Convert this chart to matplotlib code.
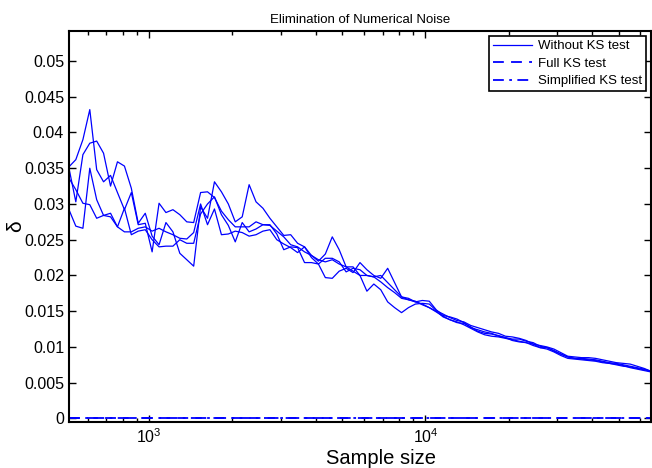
import numpy as np
import matplotlib
matplotlib.use("Agg")
import matplotlib.pyplot as plt
from matplotlib.ticker import FormatStrFormatter, LogLocator, NullFormatter

plt.rcParams['font.family'] = ['Liberation Sans', 'DejaVu Sans']
plt.rcParams['mathtext.fontset'] = 'custom'
plt.rcParams['mathtext.rm'] = 'Liberation Sans'
plt.rcParams['mathtext.it'] = 'Liberation Sans'

# sample sizes
n = [512, 542, 575, 609, 645, 683, 724, 767, 813, 861, 912, 967,
     1024, 1085, 1149, 1218, 1290, 1367, 1448, 1534, 1625, 1722, 1825, 1933,
     2048, 2170, 2299, 2435, 2580, 2734, 2896, 3069, 3251, 3444, 3649, 3866,
     4096, 4340, 4598, 4871, 5161, 5468, 5793, 6137, 6502, 6889, 7298, 7732,
     8192, 8679, 9195, 9742, 10321, 10935, 11585, 12274, 13004, 13777, 14596, 15464,
     16384, 17358, 18390, 19484, 20643, 21870, 23170, 24548, 26008, 27554, 29193, 30929,
     32768, 34716, 36781, 38968, 41285, 43740, 46341, 49097, 52016, 55109, 58386, 61858,
     65536]

# delta, runs without KS test
run1 = [0.0352, 0.0362, 0.0390, 0.0432, 0.0348, 0.0331, 0.0340, 0.0316, 0.0292, 0.0316, 0.0271, 0.0273,
        0.0233, 0.0301, 0.0288, 0.0292, 0.0285, 0.0275, 0.0274, 0.0316, 0.0317, 0.0309, 0.0290, 0.0278,
        0.0268, 0.0268, 0.0268, 0.0275, 0.0271, 0.0271, 0.0258, 0.0236, 0.0240, 0.0239, 0.0218, 0.0218,
        0.0216, 0.0197, 0.0196, 0.0206, 0.0210, 0.0204, 0.0218, 0.0208, 0.0200, 0.0196, 0.0210, 0.0190,
        0.0170, 0.0168, 0.0163, 0.0160, 0.0155, 0.0149, 0.0143, 0.0138, 0.0134, 0.0133, 0.0128, 0.0122,
        0.0119, 0.0118, 0.0116, 0.0113, 0.0111, 0.0111, 0.0108, 0.0106, 0.0101, 0.0099, 0.0095, 0.0090,
        0.0086, 0.0084, 0.0084, 0.0083, 0.0082, 0.0080, 0.0078, 0.0077, 0.0075, 0.0073, 0.0071, 0.0069,
        0.0066]
run2 = [0.0350, 0.0303, 0.0369, 0.0385, 0.0388, 0.0371, 0.0325, 0.0359, 0.0353, 0.0322, 0.0273, 0.0287,
        0.0255, 0.0243, 0.0274, 0.0261, 0.0231, 0.0222, 0.0213, 0.0296, 0.0280, 0.0331, 0.0317, 0.0300,
        0.0275, 0.0282, 0.0327, 0.0303, 0.0294, 0.0280, 0.0268, 0.0256, 0.0257, 0.0245, 0.0240, 0.0228,
        0.0220, 0.0230, 0.0254, 0.0236, 0.0212, 0.0212, 0.0200, 0.0178, 0.0188, 0.0180, 0.0163, 0.0155,
        0.0148, 0.0155, 0.0160, 0.0161, 0.0160, 0.0151, 0.0146, 0.0141, 0.0137, 0.0135, 0.0130, 0.0127,
        0.0124, 0.0121, 0.0119, 0.0115, 0.0114, 0.0112, 0.0109, 0.0104, 0.0102, 0.0100, 0.0097, 0.0092,
        0.0087, 0.0086, 0.0085, 0.0085, 0.0084, 0.0082, 0.0080, 0.0078, 0.0077, 0.0076, 0.0073, 0.0070,
        0.0066]
run3 = [0.0336, 0.0320, 0.0301, 0.0299, 0.0280, 0.0284, 0.0287, 0.0268, 0.0261, 0.0261, 0.0266, 0.0268,
        0.0262, 0.0266, 0.0261, 0.0257, 0.0252, 0.0251, 0.0260, 0.0300, 0.0271, 0.0293, 0.0257, 0.0258,
        0.0262, 0.0260, 0.0255, 0.0257, 0.0262, 0.0264, 0.0250, 0.0244, 0.0239, 0.0232, 0.0240, 0.0225,
        0.0216, 0.0224, 0.0224, 0.0219, 0.0205, 0.0210, 0.0208, 0.0200, 0.0198, 0.0200, 0.0190, 0.0180,
        0.0170, 0.0166, 0.0163, 0.0165, 0.0164, 0.0152, 0.0144, 0.0142, 0.0139, 0.0134, 0.0127, 0.0124,
        0.0121, 0.0119, 0.0115, 0.0113, 0.0109, 0.0107, 0.0106, 0.0104, 0.0099, 0.0097, 0.0093, 0.0088,
        0.0084, 0.0083, 0.0082, 0.0081, 0.0080, 0.0078, 0.0077, 0.0076, 0.0074, 0.0071, 0.0069, 0.0067,
        0.0065]
run4 = [0.0292, 0.0269, 0.0266, 0.0350, 0.0306, 0.0284, 0.0282, 0.0268, 0.0294, 0.0257, 0.0262, 0.0264,
        0.0250, 0.0240, 0.0241, 0.0241, 0.0250, 0.0245, 0.0245, 0.0286, 0.0300, 0.0310, 0.0285, 0.0270,
        0.0247, 0.0274, 0.0261, 0.0265, 0.0271, 0.0270, 0.0262, 0.0254, 0.0243, 0.0240, 0.0233, 0.0228,
        0.0222, 0.0219, 0.0222, 0.0216, 0.0212, 0.0206, 0.0200, 0.0200, 0.0198, 0.0191, 0.0183, 0.0176,
        0.0168, 0.0166, 0.0164, 0.0159, 0.0155, 0.0150, 0.0142, 0.0138, 0.0135, 0.0131, 0.0126, 0.0121,
        0.0117, 0.0115, 0.0114, 0.0112, 0.0110, 0.0108, 0.0106, 0.0102, 0.0099, 0.0099, 0.0094, 0.0090,
        0.0086, 0.0084, 0.0083, 0.0082, 0.0081, 0.0079, 0.0077, 0.0075, 0.0073, 0.0072, 0.0070, 0.0068,
        0.0066]
runs = [run1, run2, run3, run4]

# with KS test the noise is removed completely
full_ks = [0.0] * len(n)
simple_ks = [0.0] * len(n)

fig = plt.figure(figsize=(6.52, 4.68), dpi=100)
ax = fig.add_axes([0.1058, 0.0983, 0.8926, 0.8355])

lw = 0.9
for i, r in enumerate(runs):
    ax.plot(n, r, 'b-', lw=lw, label="Without KS test" if i == 0 else None)
ax.plot(n, full_ks, 'b--', lw=1.3, dashes=(6, 4), label="Full KS test")
ax.plot(n, simple_ks, 'b-.', lw=1.3, dashes=(6, 3, 1.5, 3), label="Simplified KS test")

ax.set_xscale('log')
ax.set_xlim(512, 65536)
ax.set_ylim(-0.0005, 0.0542)
ax.set_yticks(np.arange(0, 0.0501, 0.005))
ax.yaxis.set_major_formatter(FormatStrFormatter('%g'))
ax.xaxis.set_major_locator(LogLocator(base=10))
ax.xaxis.set_minor_locator(LogLocator(base=10, subs=np.arange(2, 10)))
ax.xaxis.set_minor_formatter(NullFormatter())

ax.tick_params(which='both', direction='in', top=True, right=True, labelsize=11.5)
ax.tick_params(axis='x', which='major', pad=4)
ax.tick_params(which='major', length=5, width=1)
ax.tick_params(which='minor', length=3, width=1)
for s in ax.spines.values():
    s.set_linewidth(1.5)

ax.set_xlabel('Sample size', fontsize=14.5, va='baseline')
ax.xaxis.set_label_coords(0.536, -0.108)
ax.set_ylabel('δ', fontsize=15, va='center')
ax.yaxis.set_label_coords(-0.092, 0.5)
ax.set_title('Elimination of Numerical Noise', fontsize=9.5, pad=6)

leg = ax.legend(loc='upper right', fontsize=9.5, fancybox=False, framealpha=1,
                edgecolor='k', borderpad=0.3, labelspacing=0.4, handlelength=3.0,
                handletextpad=0.4, borderaxespad=0.4)
leg.get_frame().set_linewidth(1.2)

fig.savefig("out.png", dpi=100)
